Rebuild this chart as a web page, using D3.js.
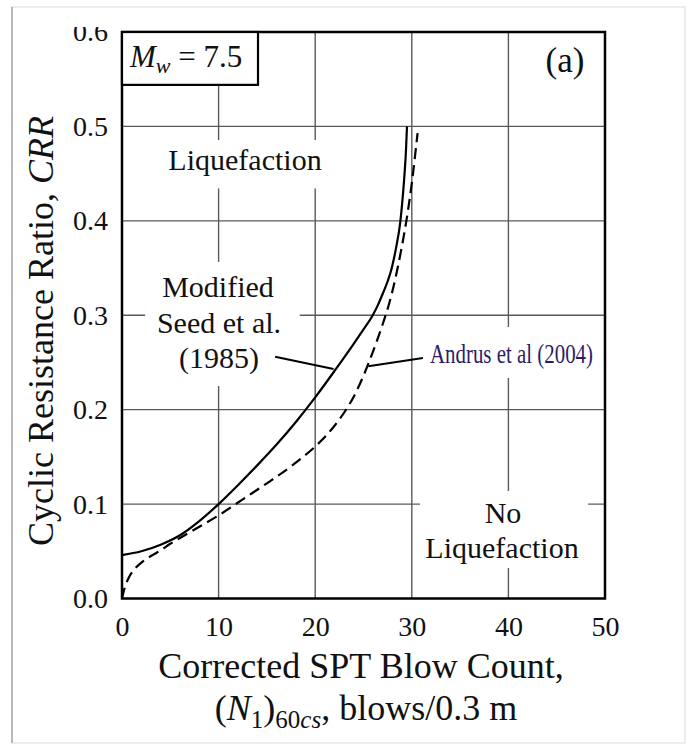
<!DOCTYPE html>
<html>
<head>
<meta charset="utf-8">
<script src="https://cdn.jsdelivr.net/npm/d3@7"></script>
<style>
  html, body { margin: 0; padding: 0; background: #fff; }
  svg { display: block; font-family: "Liberation Serif", "Times New Roman", serif; }
</style>
</head>
<body>
<svg id="chart" width="689" height="746"></svg>
<script>
// Clean-sand CRR curves for Mw = 7.5: corrected blow count vs. cyclic resistance ratio
const seedN   = [0, 2, 4, 6, 8, 10, 12, 14, 16, 18, 20, 22, 24, 25, 25.9, 26.5, 27, 27.5, 27.9, 28.15, 28.4, 28.8, 29.05, 29.25, 29.4, 29.5];
const seedCRR = [0.046, 0.050, 0.057, 0.067, 0.082, 0.100, 0.120, 0.141, 0.163, 0.187, 0.213, 0.241, 0.270, 0.285, 0.299, 0.311, 0.323, 0.336, 0.349, 0.360, 0.373, 0.398, 0.424, 0.450, 0.475, 0.500];

const andrusN   = [0, 0.3, 0.7, 1.2, 2, 3, 4, 5, 6, 7, 8, 10, 12.5, 15, 17.5, 20, 21, 22, 23, 24, 25, 26, 27, 27.7, 28.3, 28.9, 29.5, 30.0, 30.35, 30.6];
const andrusCRR = [0, 0.012, 0.022, 0.030, 0.038, 0.045, 0.051, 0.058, 0.064, 0.070, 0.076, 0.088, 0.105, 0.122, 0.140, 0.161, 0.171, 0.183, 0.197, 0.214, 0.236, 0.262, 0.291, 0.314, 0.339, 0.369, 0.404, 0.440, 0.470, 0.493];

const xTicks = [0, 10, 20, 30, 40, 50];
const yTicks = [0, 0.1, 0.2, 0.3, 0.4, 0.5, 0.6];

const svg = d3.select("#chart");
const x = d3.scaleLinear().domain([0, 50]).range([122, 605]);
const y = d3.scaleLinear().domain([0, 0.6]).range([598.5, 32]);

// page frame
svg.append("rect").attr("x", 12).attr("y", 7).attr("width", 673).attr("height", 736)
  .attr("fill", "none").attr("stroke", "#e6e6e6").attr("stroke-width", 1.5);
svg.append("line").attr("x1", 12).attr("x2", 12).attr("y1", 7).attr("y2", 743)
  .attr("stroke", "#b8b8b8").attr("stroke-width", 2);

// grid
const grid = svg.append("g").attr("stroke", "#5a5a5a").attr("stroke-width", 1.4);
grid.selectAll("line.v").data(xTicks.slice(1, -1)).join("line")
  .attr("x1", d => x(d)).attr("x2", d => x(d)).attr("y1", y(0)).attr("y2", y(0.6));
grid.selectAll("line.h").data(yTicks.slice(1, -1)).join("line")
  .attr("x1", x(0)).attr("x2", x(50)).attr("y1", d => y(d)).attr("y2", d => y(d));

// label backgrounds that interrupt the grid
const boxes = [
  [3.4, 22.1, 0.4856, 0.4343],
  [2.4, 18.4, 0.3565, 0.2251],
  [31.4, 49.5, 0.2876, 0.2336],
  [30.85, 48.25, 0.1139, 0.0323]
];
svg.append("g").selectAll("rect").data(boxes).join("rect")
  .attr("x", d => x(d[0])).attr("width", d => x(d[1]) - x(d[0]))
  .attr("y", d => y(d[2])).attr("height", d => y(d[3]) - y(d[2]))
  .attr("fill", "#fff");

// curves
const line = d3.line().x(d => x(d[0])).y(d => y(d[1])).curve(d3.curveMonotoneX);
svg.append("path").datum(d3.zip(seedN, seedCRR)).attr("d", line)
  .attr("fill", "none").attr("stroke", "#000").attr("stroke-width", 2.2);
svg.append("path").datum(d3.zip(andrusN, andrusCRR)).attr("d", line)
  .attr("fill", "none").attr("stroke", "#000").attr("stroke-width", 2.2)
  .attr("stroke-dasharray", "11,6");

// leader lines
const leaders = [
  [[15.85, 0.256], [21.9, 0.243]],
  [[31.15, 0.2548], [25.5, 0.246]]
];
svg.append("g").selectAll("line").data(leaders).join("line")
  .attr("x1", d => x(d[0][0])).attr("y1", d => y(d[0][1]))
  .attr("x2", d => x(d[1][0])).attr("y2", d => y(d[1][1]))
  .attr("stroke", "#000").attr("stroke-width", 2);

// plot border
svg.append("rect").attr("x", x(0)).attr("y", y(0.6))
  .attr("width", x(50) - x(0)).attr("height", y(0) - y(0.6))
  .attr("fill", "none").attr("stroke", "#000").attr("stroke-width", 2.5);

// magnitude box
svg.append("rect").attr("x", x(0)).attr("y", y(0.6))
  .attr("width", x(14.08) - x(0)).attr("height", y(0.544) - y(0.6))
  .attr("fill", "#fff").attr("stroke", "#000").attr("stroke-width", 2.2);
const mw = svg.append("text").attr("x", 130).attr("y", 67).attr("font-size", 31).attr("fill", "#111");
mw.append("tspan").attr("font-style", "italic").text("M");
mw.append("tspan").attr("font-style", "italic").attr("font-size", 22).attr("dy", 6).text("w");
mw.append("tspan").attr("dy", -6).text(" = 7.5");

// axes
const ax = svg.append("g").attr("transform", `translate(0,${y(0)})`)
  .call(d3.axisBottom(x).tickValues(xTicks).tickSize(0).tickPadding(18));
ax.select(".domain").remove();
ax.selectAll("text").attr("font-size", 28).attr("font-family", "Liberation Serif").attr("fill", "#111");

// the top tick label is cut by the page edge
svg.append("clipPath").attr("id", "topclip")
  .append("rect").attr("x", 0).attr("y", 27).attr("width", 689).attr("height", 719);
const ay = svg.append("g").attr("clip-path", "url(#topclip)")
  .append("g").attr("transform", `translate(${x(0)},0)`)
  .call(d3.axisLeft(y).tickValues(yTicks).tickFormat(d3.format(".1f")).tickSize(0).tickPadding(14));
ay.select(".domain").remove();
ay.selectAll("text").attr("font-size", 28).attr("font-family", "Liberation Serif").attr("fill", "#111");

// annotations
const ann = svg.append("g").attr("font-size", 30).attr("fill", "#111").attr("text-anchor", "middle");
ann.append("text").attr("x", 565).attr("y", 72).attr("font-size", 35).text("(a)");
ann.append("text").attr("x", 245).attr("y", 170).text("Liquefaction");
ann.append("text").attr("x", 218).attr("y", 297).text("Modified");
ann.append("text").attr("x", 219).attr("y", 333).text("Seed et al.");
ann.append("text").attr("x", 219).attr("y", 368).text("(1985)");
ann.append("text").attr("x", 503).attr("y", 523).text("No");
ann.append("text").attr("x", 502).attr("y", 558).text("Liquefaction");
svg.append("text").attr("x", 430).attr("y", 363).attr("font-size", 27)
  .attr("textLength", 163).attr("lengthAdjust", "spacingAndGlyphs")
  .attr("fill", "#2d1b69").text("Andrus et al (2004)");

// axis titles
const xt = svg.append("g").attr("font-size", 36).attr("fill", "#111").attr("text-anchor", "middle");
xt.append("text").attr("x", 361).attr("y", 678).text("Corrected SPT Blow Count,");
const l2 = xt.append("text").attr("x", 366).attr("y", 720);
l2.append("tspan").text("(");
l2.append("tspan").attr("font-style", "italic").text("N");
l2.append("tspan").attr("font-size", 25).attr("dy", 8).text("1");
l2.append("tspan").attr("dy", -8).text(")");
l2.append("tspan").attr("font-size", 25).attr("dy", 8).text("60");
l2.append("tspan").attr("font-size", 25).attr("font-style", "italic").text("cs");
l2.append("tspan").attr("dy", -8).text(", blows/0.3 m");

const yt = svg.append("text").attr("font-size", 36).attr("fill", "#111").attr("text-anchor", "middle")
  .attr("transform", "translate(53,331) rotate(-90)");
yt.append("tspan").text("Cyclic Resistance Ratio, ");
yt.append("tspan").attr("font-style", "italic").text("CRR");
</script>
</body>
</html>
